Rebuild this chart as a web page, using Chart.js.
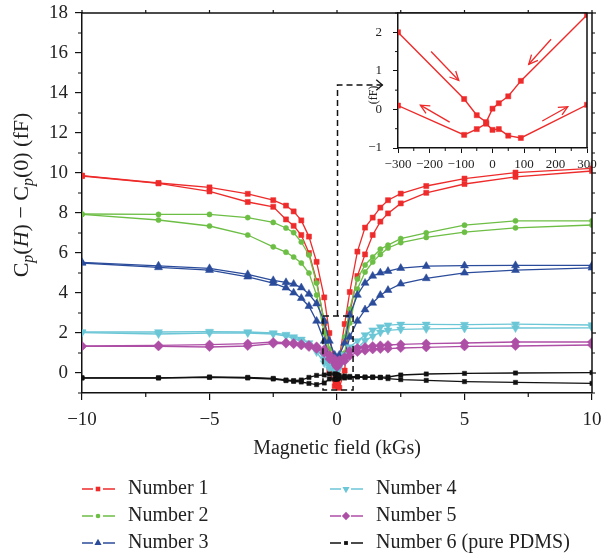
<!DOCTYPE html>
<html><head><meta charset="utf-8">
<script src="https://cdn.jsdelivr.net/npm/chart.js@4.4.0/dist/chart.umd.min.js"></script>
<style>
html,body{margin:0;padding:0;background:#fff;}
#wrap{position:relative;width:602px;height:559px;overflow:hidden;}
#main{position:absolute;left:0;top:0;}
#inset{position:absolute;left:340px;top:0;}
</style></head><body>
<div id="wrap"><canvas id="main" width="602" height="559"></canvas><canvas id="inset" width="262" height="180"></canvas></div>
<script>
// ---------- data ----------
const FIELD_KGS = [-10,-7,-5,-3.5,-2.5,-2,-1.7,-1.4,-1.1,-0.8,-0.5,-0.3,-0.09,-0.05,-0.02,0,0.02,0.05,0.09,0.3,0.5,0.8,1.1,1.4,1.7,2,2.5,3.5,5,7,10];
const N1_A = [9.87,9.5,9.28,8.96,8.64,8.37,8.08,7.63,6.82,5.56,3.78,2.0,0.27,-0.15,-0.33,0.02,0.16,0.34,0.74,2.45,4.05,6.07,7.27,7.77,8.27,8.64,8.97,9.35,9.72,10.02,10.23];
const N1_B = [9.85,9.48,9.08,8.55,8.31,7.68,7.36,6.9,6.0,4.6,2.5,0.1,-0.66,-0.51,-0.37,-0.53,-0.51,-0.68,-0.74,0.12,3.0,4.85,5.93,6.9,7.57,7.98,8.48,9.01,9.45,9.81,10.1];
const N2_A = [7.95,7.93,7.93,7.77,7.53,7.25,7.02,6.55,5.9,4.5,2.6,1.2,0.6,0.45,0.35,0.3,0.35,0.5,0.7,1.8,3.2,4.7,5.4,5.8,6.19,6.39,6.72,7.01,7.39,7.61,7.61];
const N2_B = [7.93,7.65,7.35,6.9,6.31,6.04,5.8,5.5,5.0,3.9,2.0,0.8,0.4,0.3,0.25,0.2,0.25,0.3,0.45,1.0,2.5,4.2,5.05,5.55,5.93,6.25,6.52,6.78,7.04,7.26,7.4];
const N3_A = [5.53,5.36,5.23,4.93,4.63,4.53,4.45,4.27,3.95,3.47,2.6,1.6,0.9,0.7,0.6,0.55,0.6,0.7,0.9,1.5,2.9,3.9,4.5,4.85,5.01,5.09,5.24,5.34,5.37,5.38,5.38];
const N3_B = [5.5,5.28,5.14,4.81,4.49,4.26,4.01,3.74,3.34,2.6,1.6,0.8,0.5,0.4,0.35,0.3,0.35,0.45,0.55,0.8,1.8,2.6,3.17,3.5,3.89,4.14,4.46,4.73,5.01,5.14,5.26];
const N4_A = [2.05,2.05,2.07,2.05,2.0,1.92,1.8,1.68,1.5,1.2,0.7,0.4,0.3,0.25,0.2,0.2,0.25,0.35,0.5,0.9,1.3,1.6,1.9,2.14,2.3,2.39,2.43,2.43,2.42,2.44,2.4];
const N4_B = [2.02,1.95,2.0,2.0,1.95,1.85,1.72,1.58,1.38,1.05,0.5,0.2,0.1,0.05,0.05,0.05,0.1,0.2,0.35,0.6,1.0,1.25,1.62,1.84,2.03,2.13,2.18,2.21,2.23,2.25,2.26];
const N5_A = [1.35,1.38,1.42,1.47,1.55,1.52,1.5,1.45,1.4,1.33,1.18,0.9,0.7,0.6,0.5,0.45,0.5,0.55,0.65,0.8,1.1,1.25,1.3,1.35,1.38,1.4,1.43,1.47,1.5,1.55,1.55];
const N5_B = [1.33,1.33,1.3,1.35,1.47,1.47,1.44,1.38,1.3,1.2,1.0,0.7,0.5,0.4,0.35,0.3,0.35,0.4,0.5,0.6,0.85,1.05,1.12,1.18,1.2,1.22,1.25,1.28,1.33,1.35,1.4];
const N6_A = [-0.24,-0.24,-0.2,-0.22,-0.27,-0.35,-0.38,-0.35,-0.22,-0.12,-0.1,-0.05,-0.05,-0.05,-0.1,-0.1,-0.1,-0.12,-0.14,-0.15,-0.17,-0.18,-0.2,-0.2,-0.21,-0.2,-0.1,-0.05,-0.02,0.0,0.02];
const N6_B = [-0.25,-0.25,-0.22,-0.25,-0.3,-0.38,-0.42,-0.45,-0.52,-0.58,-0.5,-0.3,-0.3,-0.3,-0.3,-0.3,-0.28,-0.26,-0.25,-0.25,-0.22,-0.2,-0.22,-0.22,-0.23,-0.28,-0.33,-0.37,-0.43,-0.47,-0.52];
const LABELS = ['Number 1','Number 2','Number 3','Number 4','Number 5','Number 6 (pure PDMS)'];
const X_TICKS = [-10,-5,0,5,10];
const Y_TICKS = [0,2,4,6,8,10,12,14,16,18];
const INSET_X_TICKS = [-300,-200,-100,0,100,200,300];
const INSET_Y_TICKS = [-1,0,1,2];
const INSET_LIMIT_KGS = 0.3;   // inset shows |H| <= 300 Gs of Number 1

// ---------- styles ----------
const STYLE = [
  {color:'#EE2B2B', shape:'rect', r:3.6, rot:0},
  {color:'#6DBE45', shape:'circle', r:2.6, rot:0},
  {color:'#2B4C9B', shape:'triangle', r:4.6, rot:0},
  {color:'#6BC6D6', shape:'triangle', r:4.6, rot:180},
  {color:'#AE4FA6', shape:'rectRot', r:4.6, rot:0},
  {color:'#111111', shape:'rect', r:3.0, rot:0}
];
const BRANCHES = [[N1_A,N1_B],[N2_A,N2_B],[N3_A,N3_B],[N4_A,N4_B],[N5_A,N5_B],[N6_A,N6_B]];
const SERIF = '"Liberation Serif","DejaVu Serif",serif';
const INK = '#222';

const fmt = v => v < 0 ? '\u2212' + Math.abs(v) : String(v);
const noPad = s => { s.paddingTop = 0; s.paddingBottom = 0; s.paddingLeft = 0; s.paddingRight = 0; };

const datasets = [];
BRANCHES.forEach((pair, i) => {
  const s = STYLE[i];
  pair.forEach((arr, k) => {
    datasets.push({
      label: LABELS[i] + (k ? ' b' : ' a'),
      data: FIELD_KGS.map((x, j) => ({x, y: arr[j]})),
      showLine: true, tension: 0,
      borderColor: s.color, backgroundColor: s.color, borderWidth: 1.3,
      pointStyle: s.shape, pointRadius: s.r, pointRotation: s.rot,
      pointBorderColor: s.color, pointBorderWidth: 0.5, pointBackgroundColor: s.color,
      order: 5 - i
    });
  });
});

function marker(ctx, shape, x, y, r, rot, color) {
  ctx.save(); ctx.fillStyle = color; ctx.beginPath();
  if (shape === 'rect') { const s = r * Math.SQRT1_2; ctx.rect(x - s, y - s, 2 * s, 2 * s); }
  else if (shape === 'circle') { ctx.arc(x, y, r, 0, Math.PI * 2); }
  else if (shape === 'triangle') {
    let a = rot * Math.PI / 180;
    for (let k = 0; k < 3; k++) { const px = x + Math.sin(a) * r, py = y - Math.cos(a) * r; k ? ctx.lineTo(px, py) : ctx.moveTo(px, py); a += 2 * Math.PI / 3; }
    ctx.closePath();
  } else if (shape === 'rectRot') { ctx.moveTo(x, y - r); ctx.lineTo(x + r, y); ctx.lineTo(x, y + r); ctx.lineTo(x - r, y); ctx.closePath(); }
  ctx.fill(); ctx.restore();
}

function arrowHead(ctx, x1, y1, x2, y2, len, ang) {
  const a = Math.atan2(y2 - y1, x2 - x1);
  ctx.beginPath();
  ctx.moveTo(x2 - len * Math.cos(a - ang), y2 - len * Math.sin(a - ang));
  ctx.lineTo(x2, y2);
  ctx.lineTo(x2 - len * Math.cos(a + ang), y2 - len * Math.sin(a + ang));
  ctx.stroke();
}

function richVertical(ctx, pieces, cx, cy) {
  ctx.save(); ctx.translate(cx, cy); ctx.rotate(-Math.PI / 2);
  let total = 0;
  pieces.forEach(p => { ctx.font = p.font; p.w = ctx.measureText(p.t).width; total += p.w; });
  let x = -total / 2; ctx.fillStyle = INK; ctx.textBaseline = 'alphabetic';
  pieces.forEach(p => { ctx.font = p.font; ctx.fillText(p.t, x, p.dy || 0); x += p.w; });
  ctx.restore();
}

const mainDecor = {
  id: 'mainDecor',
  afterDraw(chart) {
    const ctx = chart.ctx, xs = chart.scales.x, ys = chart.scales.y, ca = chart.chartArea;
    ctx.save();
    // frame
    ctx.strokeStyle = '#111'; ctx.lineWidth = 1.5;
    ctx.beginPath(); ctx.moveTo(ca.left, ca.top); ctx.lineTo(ca.right, ca.top); ctx.lineTo(ca.right, ca.bottom); ctx.stroke();
    // minor ticks + mirrored ticks
    ctx.lineWidth = 1.2;
    for (let v = -10; v <= 10; v += 2.5) {
      const px = xs.getPixelForValue(v);
      ctx.beginPath();
      if (v % 5 !== 0) { ctx.moveTo(px, ca.bottom); ctx.lineTo(px, ca.bottom + 4); }
      ctx.moveTo(px, ca.top); ctx.lineTo(px, ca.top - 3);
      ctx.stroke();
    }
    for (let v = -1; v <= 18; v += 1) {
      const py = ys.getPixelForValue(v);
      ctx.beginPath();
      if (v % 2 !== 0) { ctx.moveTo(ca.left, py); ctx.lineTo(ca.left - 4, py); }
      ctx.moveTo(ca.right, py); ctx.lineTo(ca.right + (v % 2 ? 3 : 4), py);
      ctx.stroke();
    }
    // dashed zoom rectangle + connector
    ctx.strokeStyle = '#111'; ctx.lineWidth = 1.5; ctx.setLineDash([6, 4]);
    const rx1 = xs.getPixelForValue(-0.55), rx2 = xs.getPixelForValue(0.63);
    const ry1 = ys.getPixelForValue(2.85), ry2 = ys.getPixelForValue(-0.85);
    ctx.strokeRect(rx1, ry1, rx2 - rx1, ry2 - ry1);
    const cx = xs.getPixelForValue(0.02), cyTop = ys.getPixelForValue(14.4), ex = xs.getPixelForValue(1.78);
    ctx.beginPath(); ctx.moveTo(cx, ry1); ctx.lineTo(cx, cyTop); ctx.lineTo(ex, cyTop); ctx.stroke();
    ctx.setLineDash([]); ctx.lineWidth = 1.3;
    arrowHead(ctx, cx, cyTop, ex, cyTop, 8, Math.PI / 4.5);
    // axis titles
    ctx.fillStyle = INK; ctx.textAlign = 'center'; ctx.textBaseline = 'middle';
    ctx.font = '20px ' + SERIF;
    ctx.fillText('Magnetic field (kGs)', (ca.left + ca.right) / 2, 449);
    ctx.textAlign = 'left';
    const F = '22px ' + SERIF, I = 'italic 22px ' + SERIF, S = 'italic 16px ' + SERIF;
    richVertical(ctx, [
      {t:'C', font:F}, {t:'p', font:S, dy:5}, {t:'(', font:F}, {t:'H', font:I}, {t:') \u2212 C', font:F},
      {t:'p', font:S, dy:5}, {t:'(0) (fF)', font:F}
    ], 28, 195);
    // legend
    const COLS = [82, 330], ROWS = [489, 516, 543];
    LABELS.forEach((lab, i) => {
      const s = STYLE[i], x0 = COLS[Math.floor(i / 3)], y = ROWS[i % 3];
      ctx.strokeStyle = s.color; ctx.lineWidth = 1.5;
      ctx.beginPath(); ctx.moveTo(x0, y); ctx.lineTo(x0 + 11, y); ctx.moveTo(x0 + 21, y); ctx.lineTo(x0 + 33, y); ctx.stroke();
      marker(ctx, s.shape, x0 + 16, y, s.r * 0.9, s.rot, s.color);
      ctx.fillStyle = INK; ctx.font = '20px ' + SERIF; ctx.textBaseline = 'middle';
      ctx.fillText(lab, x0 + 46, y);
    });
    ctx.restore();
  }
};

new Chart(document.getElementById('main'), {
  type: 'scatter',
  data: {datasets},
  plugins: [mainDecor],
  options: {
    responsive: false, animation: false, devicePixelRatio: 1,
    layout: {padding: {left: 0, right: 10, top: 13, bottom: 0}},
    plugins: {legend: {display: false}, tooltip: {enabled: false}},
    scales: {
      x: {
        type: 'linear', min: -10, max: 10,
        afterBuildTicks: s => { s.ticks = X_TICKS.map(v => ({value: v})); },
        afterFit: s => { s.height = 166; noPad(s); },
        grid: {drawOnChartArea: false, drawTicks: true, tickLength: 7, color: '#111', lineWidth: 1.2},
        border: {display: true, color: '#111', width: 1.5},
        ticks: {font: {family: SERIF, size: 19}, color: INK, padding: 9, maxRotation: 0, callback: v => fmt(v)}
      },
      y: {
        type: 'linear', min: -1, max: 18,
        afterBuildTicks: s => { s.ticks = Y_TICKS.map(v => ({value: v})); },
        afterFit: s => { s.width = 82; noPad(s); },
        grid: {drawOnChartArea: false, drawTicks: true, tickLength: 7, color: '#111', lineWidth: 1.2},
        border: {display: true, color: '#111', width: 1.5},
        ticks: {font: {family: SERIF, size: 19}, color: INK, padding: 7, callback: v => fmt(v)}
      }
    }
  }
});

// ---------- inset ----------
const insetSets = [N1_A, N1_B].map((arr, k) => ({
  label: 'inset ' + k,
  data: FIELD_KGS.map((x, j) => ({x: x * 1000, y: arr[j]})).filter(p => Math.abs(p.x) <= INSET_LIMIT_KGS * 1000 + 1e-9),
  showLine: true, tension: 0,
  borderColor: STYLE[0].color, backgroundColor: STYLE[0].color, borderWidth: 1.4,
  pointStyle: 'rect', pointRadius: 3.6, pointBorderWidth: 0.5, pointBorderColor: STYLE[0].color
}));
// arrows showing sweep direction, in inset units (Gs, fF): [x1,y1,x2,y2]
const INSET_ARROWS = [[-195,1.5,-107,0.75],[186,1.82,115,1.17],[-136,-0.33,-229,0.11],[158,-0.3,239,0.07]];

const insetDecor = {
  id: 'insetDecor',
  beforeDraw(chart) {
    const ctx = chart.ctx, ca = chart.chartArea;
    ctx.save(); ctx.fillStyle = '#fff'; ctx.fillRect(ca.left, ca.top, ca.right - ca.left, ca.bottom - ca.top); ctx.restore();
  },
  afterDraw(chart) {
    const ctx = chart.ctx, xs = chart.scales.x, ys = chart.scales.y, ca = chart.chartArea;
    ctx.save();
    ctx.strokeStyle = '#111'; ctx.lineWidth = 1.5;
    ctx.beginPath(); ctx.moveTo(ca.left, ca.top); ctx.lineTo(ca.right, ca.top); ctx.lineTo(ca.right, ca.bottom); ctx.stroke();
    ctx.lineWidth = 1;
    for (let v = -250; v <= 250; v += 100) { const px = xs.getPixelForValue(v); ctx.beginPath(); ctx.moveTo(px, ca.bottom); ctx.lineTo(px, ca.bottom + 3); ctx.stroke(); }
    for (let v = -0.5; v <= 2.5; v += 1) { const py = ys.getPixelForValue(v); ctx.beginPath(); ctx.moveTo(ca.left, py); ctx.lineTo(ca.left - 3, py); ctx.stroke(); }
    ctx.strokeStyle = STYLE[0].color; ctx.lineWidth = 1.3;
    INSET_ARROWS.forEach(a => {
      const x1 = xs.getPixelForValue(a[0]), y1 = ys.getPixelForValue(a[1]), x2 = xs.getPixelForValue(a[2]), y2 = ys.getPixelForValue(a[3]);
      ctx.beginPath(); ctx.moveTo(x1, y1); ctx.lineTo(x2, y2); ctx.stroke();
      arrowHead(ctx, x1, y1, x2, y2, 10, Math.PI / 7);
    });
    ctx.fillStyle = INK; ctx.font = '12px ' + SERIF; ctx.textAlign = 'center'; ctx.textBaseline = 'middle';
    ctx.translate(34, 95); ctx.rotate(-Math.PI / 2); ctx.fillText('(fF)', 0, 0);
    ctx.restore();
  }
};

new Chart(document.getElementById('inset'), {
  type: 'scatter',
  data: {datasets: insetSets},
  plugins: [insetDecor],
  options: {
    responsive: false, animation: false, devicePixelRatio: 1,
    layout: {padding: {left: 0, right: 15, top: 13, bottom: 0}},
    plugins: {legend: {display: false}, tooltip: {enabled: false}},
    scales: {
      x: {
        type: 'linear', min: -300, max: 300,
        afterBuildTicks: s => { s.ticks = INSET_X_TICKS.map(v => ({value: v})); },
        afterFit: s => { s.height = 32; noPad(s); },
        grid: {drawOnChartArea: false, drawTicks: true, tickLength: 5, color: '#111', lineWidth: 1},
        border: {display: true, color: '#111', width: 1.5},
        ticks: {font: {family: SERIF, size: 13}, color: INK, padding: 4, maxRotation: 0, callback: v => fmt(v)}
      },
      y: {
        type: 'linear', min: -1, max: 2.5,
        afterBuildTicks: s => { s.ticks = INSET_Y_TICKS.map(v => ({value: v})); },
        afterFit: s => { s.width = 58; noPad(s); },
        grid: {drawOnChartArea: false, drawTicks: true, tickLength: 5, color: '#111', lineWidth: 1},
        border: {display: true, color: '#111', width: 1.5},
        ticks: {font: {family: SERIF, size: 13}, color: INK, padding: 11, callback: v => fmt(v)}
      }
    }
  }
});
</script>
</body></html>
